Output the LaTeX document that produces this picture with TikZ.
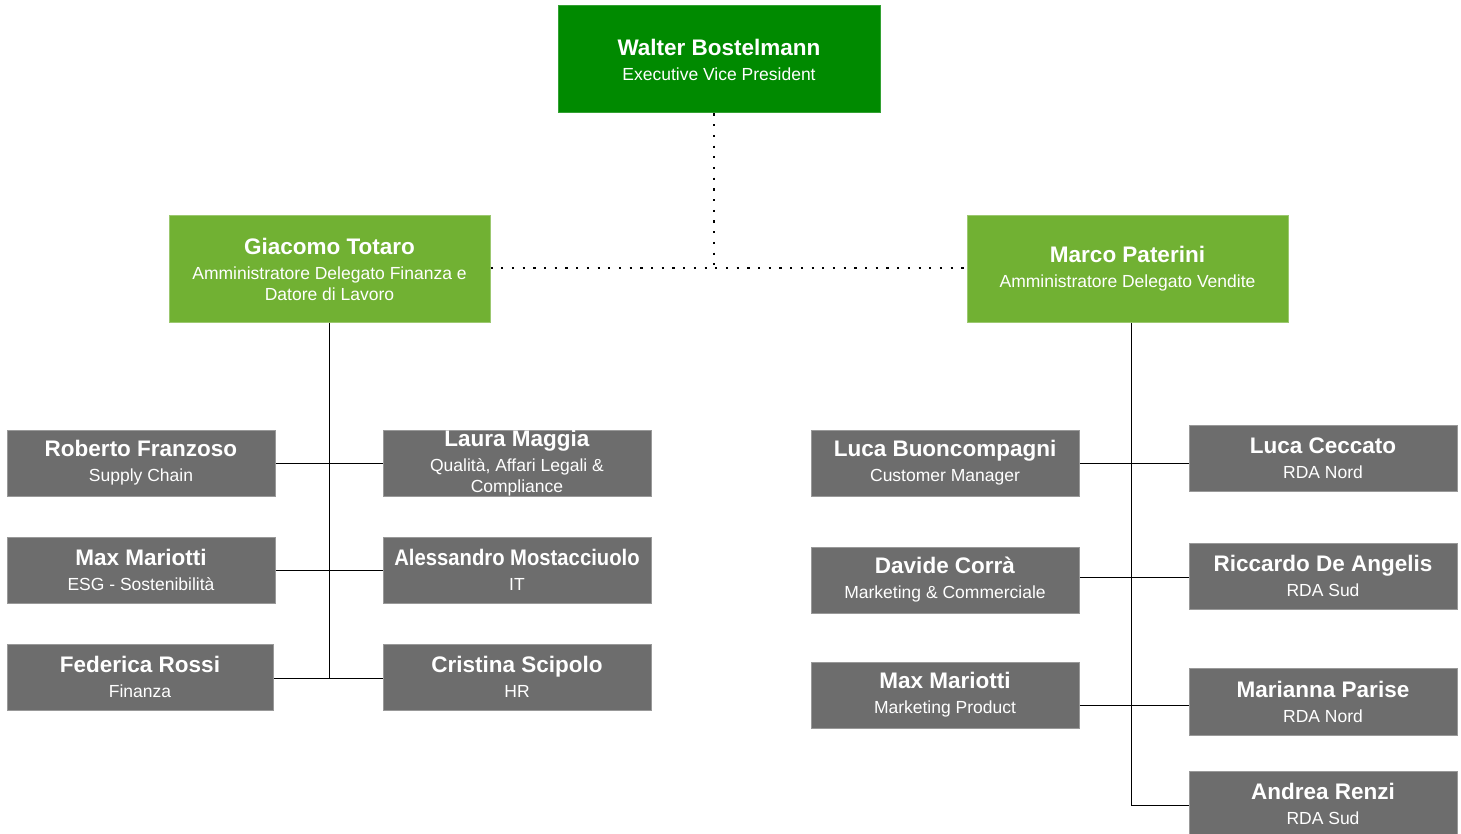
\documentclass[tikz,border=0pt]{standalone}
\usepackage{fontspec}
\setmainfont{Liberation Sans}
\definecolor{dgreen}{HTML}{008A00}
\definecolor{lgreen}{HTML}{71B133}
\definecolor{boxgray}{HTML}{6D6D6D}
\newcommand{\pname}[1]{{\fontsize{22.5}{22}\selectfont\bfseries #1}}
\begin{document}
\begin{tikzpicture}[x=1pt,y=-1pt,
  card/.style={rectangle, inner sep=0pt, text=white, align=center,
    font=\fontsize{17.5}{21}\selectfont, line width=1pt},
  topcard/.style={card, fill=dgreen, draw=dgreen!80!white, minimum width=322pt, minimum height=107pt},
  midcard/.style={card, fill=lgreen, draw=lgreen!70!white, minimum width=321pt, minimum height=106pt},
  subcard/.style={card, fill=boxgray, draw=boxgray!70!white, minimum width=268pt, minimum height=66pt},
  link/.style={black, line width=0.9pt},
  dotlink/.style={black, line width=2.2pt, dash pattern=on 2.2pt off 8.5pt}
]
\useasboundingbox (0,0) rectangle (1461,834);
\clip (0,0) rectangle (1461,834);

% top
\node[topcard] (walter) at (719,59.5) {\pname{Walter Bostelmann}\\[4pt]Executive Vice President};
% second level
\node[midcard] (giacomo) at (329.5,269) {\pname{Giacomo Totaro}\\[4pt]Amministratore Delegato Finanza e\\Datore di Lavoro};
\node[midcard] (marco) at (1127.5,269) {\pname{Marco Paterini}\\[4pt]Amministratore Delegato Vendite};

% left group
\node[subcard] (roberto) at (141,463) {\pname{Roberto Franzoso}\\[4pt]Supply Chain};
\node[subcard] (laura) at (517,463) {\pname{Laura Maggia}\\[4pt]Qualità, Affari Legali \&\\Compliance};
\node[subcard] (maxl) at (141,570) {\pname{Max Mariotti}\\[4pt]ESG - Sostenibilità};
\node[subcard] (alessandro) at (517,570) {\scalebox{0.9}[1]{\pname{Alessandro Mostacciuolo}}\\[4pt]IT};
\node[subcard, minimum width=266pt] (federica) at (140,677) {\pname{Federica Rossi}\\[4pt]Finanza};
\node[subcard] (cristina) at (517,677) {\pname{Cristina Scipolo}\\[4pt]HR};

% right group
\node[subcard] (lucab) at (945,463) {\pname{Luca Buoncompagni}\\[4pt]Customer Manager};
\node[subcard] (lucac) at (1323,458) {\pname{Luca Ceccato}\\[4pt]RDA Nord};
\node[subcard] (davide) at (945,580) {\pname{Davide Corrà}\\[4pt]Marketing \& Commerciale};
\node[subcard] (riccardo) at (1323,576) {\pname{Riccardo De Angelis}\\[4pt]RDA Sud};
\node[subcard] (maxr) at (945,695) {\pname{Max Mariotti}\\[4pt]Marketing Product};
\node[subcard, minimum height=67pt] (marianna) at (1323,701.5) {\pname{Marianna Parise}\\[4pt]RDA Nord};
\node[subcard] (andrea) at (1323,804) {\pname{Andrea Renzi}\\[4pt]RDA Sud};

% dotted connectors
\coordinate (junc) at (714,268);
\draw[dotlink] (walter.south -| junc) -- (junc);
\draw[dotlink] (giacomo.east |- junc) -- (marco.west |- junc);

% left tree
\coordinate (ltrunkend) at (329,678);
\draw[link] (giacomo.south -| ltrunkend) -- (ltrunkend);
\draw[link] (roberto.east) -- (laura.west);
\draw[link] (maxl.east) -- (alessandro.west);
\draw[link] (federica.east |- ltrunkend) -- (cristina.west |- ltrunkend);

% right tree
\coordinate (rtrunkend) at (1131,805);
\draw[link] (marco.south -| rtrunkend) -- (rtrunkend);
\draw[link] (lucab.east) -- (lucab.east -| lucac.west);
\draw[link] (davide.east |- 0,577) -- (riccardo.west |- 0,577);
\draw[link] (maxr.east |- 0,705) -- (marianna.west |- 0,705);
\draw[link] (rtrunkend) -- (rtrunkend -| andrea.west);
\end{tikzpicture}
\end{document}
